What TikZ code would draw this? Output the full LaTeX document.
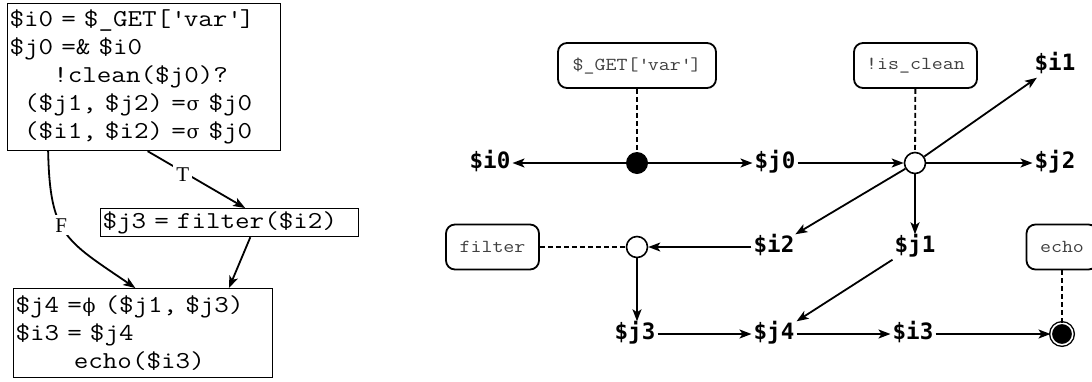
\documentclass[tikz,border=0pt]{standalone}
\usepackage{fontspec}
\setmainfont{Liberation Serif}
\newfontfamily\greekfont{DejaVu Serif}
\newfontfamily\varfont{DejaVu Sans Mono}
\usetikzlibrary{arrows.meta,calc}
\frenchspacing

% widen the typewriter face so that the first code line is 262pt long
\newfontfamily\probefont{Latin Modern Mono}
\newlength\probewd
\settowidth\probewd{\probefont\fontsize{24.25}{28}\selectfont
  \$i0 = \$\_GET[\textquotesingle var\textquotesingle]}
\pgfmathsetmacro\codestretch{262/\probewd}
\newfontfamily\codefont{Latin Modern Mono}[FakeStretch=\codestretch]

% a Greek operator letter set in one cell of the code font
\newcommand\gk[1]{\makebox[\fontcharwd\font`0]{\greekfont\fontsize{19}{19}\selectfont #1}}

\begin{document}
\begin{tikzpicture}[x=1pt,y=-1pt,
  arr/.style={-{Stealth[length=12pt,width=9pt,inset=3pt]}, line width=1.8pt},
  codebox/.style={draw, line width=1.2pt, anchor=north west, inner xsep=2pt,
    inner ysep=0pt, align=left, font=\codefont\fontsize{24.25}{28}\selectfont},
  var/.style={font=\varfont\bfseries\fontsize{22.5}{22}\selectfont, inner sep=2pt,
    text height=16pt, text depth=5pt},
  op/.style={draw, rounded corners=9pt, line width=1.8pt, minimum height=45pt,
    inner sep=0pt, text=black!75, font=\codefont\fontsize{18.3}{20}\selectfont},
  link/.style={dash pattern=on 5pt off 3pt, line width=1.8pt},
  source/.style={circle, fill=black, minimum size=22pt, inner sep=0pt},
  junction/.style={circle, draw, fill=white, line width=1.6pt, minimum size=21pt, inner sep=0pt},
  sink/.style={circle, draw, fill=black, double=white, double distance=1.6pt,
    line width=1.4pt, minimum size=21.6pt, inner sep=0pt},
  cond/.style={font=\fontsize{21}{21}\selectfont, fill=white, inner sep=3pt}
]
\useasboundingbox (0,0) rectangle (1092,381);

% ---- control-flow graph ----
\node[codebox, text width=269pt, minimum height=147pt] (b1) at (7,3)
  {\$i0 = \$\_GET[\textquotesingle var\textquotesingle]\\
   \$j0 =\& \$i0\\
   \phantom{000}!clean(\$j0)?\\
   \phantom{0}(\$j1, \$j2) =\gk{σ} \$j0\\
   \phantom{0}(\$i1, \$i2) =\gk{σ} \$j0};
\node[codebox, text width=254pt, minimum height=28pt] (b2) at (100,208)
  {\$j3 = filter(\$i2)};
\node[codebox, text width=255pt, minimum height=89pt] (b3) at (13,288)
  {\$j4 =\gk{ϕ} (\$j1, \$j3)\\
   \$i3 = \$j4\\
   \phantom{0000}echo(\$i3)};

\draw[arr] ($(b1.south west)!0.15!(b1.south east)$)
  .. controls (50,235) and (65,240) ..
  node[pos=0.43, cond] {F}
  ($(b3.north west)!0.47!(b3.north east)$);
\draw[arr] ($(b1.south west)!0.513!(b1.south east)$)
  -- node[pos=0.36, cond, yshift=-3pt] {T}
  ($(b2.north west)!0.56!(b2.north east)$);
\draw[arr] ($(b2.south west)!0.58!(b2.south east)$)
  -- ($(b3.north west)!0.83!(b3.north east)$);

% ---- data-flow graph ----
\node[op, minimum width=158pt] (get) at (637,65.5) {\$\_GET[\textquotesingle var\textquotesingle]};
\node[op, minimum width=123pt] (isclean) at (915.5,65.5) {!is\_clean};
\node[op, minimum width=93pt] (filt) at (492.5,247) {filter};
\node[op, minimum width=71pt] (echo) at (1062,247) {echo};

\node[source] (src) at (637,163) {};
\node[junction] (c1) at (915,163) {};
\node[junction] (c2) at (637,247) {};
\node[sink] (snk) at (1062,334) {};

\node[var] (i0) at (490,163) {\$i0};
\node[var] (j0) at (775,163) {\$j0};
\node[var] (i1) at (1055,65) {\$i1};
\node[var] (j2) at (1055,163) {\$j2};
\node[var] (i2) at (774,247) {\$i2};
\node[var] (j1) at (915,247) {\$j1};
\node[var] (j3) at (635,334) {\$j3};
\node[var] (j4) at (774,334) {\$j4};
\node[var] (i3) at (913,334) {\$i3};

\draw[link] (get) -- (src);
\draw[link] (isclean) -- (c1);
\draw[link] (filt) -- (c2);
\draw[link] (echo) -- (snk);

\draw[arr] (src) -- (i0);
\draw[arr] (src) -- (j0);
\draw[arr] (j0) -- (c1);
\draw[arr] (c1) -- (j2);
\draw[arr] (c1) -- (i1);
\draw[arr] (c1) -- (i2);
\draw[arr] (c1) -- (j1);
\draw[arr] (i2) -- (c2);
\draw[arr] (c2) -- (c2 |- j3.north);
\draw[arr] (j3) -- (j4);
\draw[arr] (j1.south west) -- (j4.north east);
\draw[arr] (j4) -- (i3);
\draw[arr] (i3) -- (snk);
\end{tikzpicture}
\end{document}
